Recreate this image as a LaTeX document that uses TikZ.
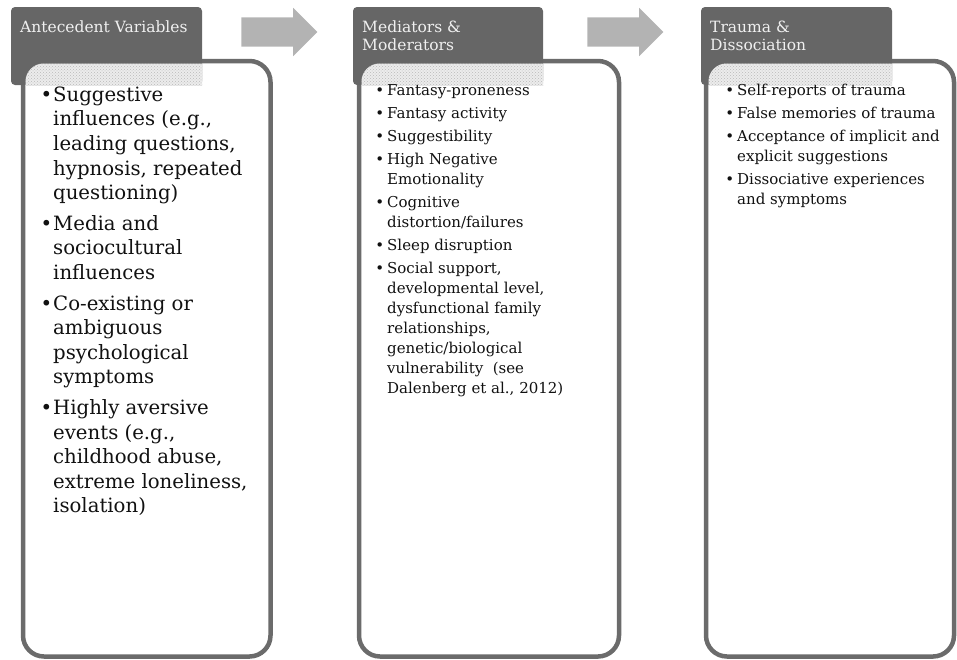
\documentclass[tikz,border=0pt]{standalone}
\usepackage{fontspec}
\setmainfont{DejaVu Serif}
\usepackage{xcolor}
\definecolor{fighead}{HTML}{666666}
\definecolor{figedge}{HTML}{6B6B6B}
\definecolor{figarrow}{HTML}{B3B3B3}
\definecolor{figtext}{HTML}{111111}
\definecolor{fightitle}{HTML}{F0F0F0}
\usetikzlibrary{positioning,shapes.arrows,patterns,calc}
\tikzset{
  fighdr/.style={fill=fighead,rounded corners=4pt,inner sep=0pt,outer sep=0pt,minimum height=78pt,anchor=north west},
  figbody/.style={draw=figedge,line width=4.5pt,fill=white,rounded corners=21pt,inner sep=0pt,outer sep=0pt,minimum height=595.5pt,anchor=north west},
  figtitle/.style={text=fightitle,font=\fontsize{15.5}{18.5}\selectfont,align=left,inner sep=0pt,anchor=north west},
  figbig/.style={text=figtext,font=\fontsize{19.7}{24.6}\selectfont,align=left,inner sep=0pt,anchor=north west},
  figsmall/.style={text=figtext,font=\fontsize{15}{20}\selectfont,align=left,inner sep=0pt,anchor=north west},
  figshade/.style={preaction={fill=gray!15},pattern=crosshatch dots,pattern color=gray!55,rounded corners=18pt},
  figflow/.style={single arrow,fill=figarrow,minimum height=76pt,inner xsep=0pt,inner ysep=14.5pt,single arrow head extend=9.5pt},
}
\newcommand{\bigbul}{\strut\llap{\textbullet\hspace{1pt}}}
\newcommand{\smlbul}{\strut\llap{\textbullet\hspace{3pt}}}

\begin{document}
\begin{tikzpicture}[x=1pt,y=-1pt]
\useasboundingbox (0,0) rectangle (957,659);
% white panels
\node[figbody,minimum width=247.5pt](b1) at (23,61){};
\node[figbody,minimum width=260pt](b2) at (359,61){};
\node[figbody,minimum width=248pt](b3) at (706,61){};
% dark headers
\node[fighdr,minimum width=191pt](h1) at (11,7){};
\node[fighdr,minimum width=190pt](h2) at (353,7){};
\node[fighdr,minimum width=191pt](h3) at (701,7){};
% see-through part where header and panel overlap
\foreach \i in {1,2,3}{
  \begin{scope}
    \clip (h\i.south west) rectangle (h\i.north east);
    \fill[figshade]([shift={(2.5,2.5)}]b\i.north west) rectangle ([shift={(-2.5,-2.5)}]b\i.south east);
  \end{scope}
}
\node[figtitle](h1t) at ([shift={(9,12.05)}]h1.north west){\strut Antecedent Variables};
\node[figtitle](h2t) at ([shift={(9,12.05)}]h2.north west){\strut Mediators \&\\Moderators};
\node[figtitle](h3t) at ([shift={(9,12.05)}]h3.north west){\strut Trauma \&\\Dissociation};
% block arrows between headers
\node[figflow](f1) at ($(h1.north east)!0.5!(h2.north west)+(-5.5,25)$){};
\node[figflow](f2) at ($(h2.north east)!0.5!(h3.north west)+(-4,25)$){};
% lists
\node[figbig](t1) at ([shift={(30,22.8)}]b1.north west){\bigbul Suggestive\\influences (e.g.,\\leading questions,\\hypnosis, repeated\\questioning)\\[6pt]
\bigbul Media and\\sociocultural\\influences\\[6pt]
\bigbul Co-existing or\\ambiguous\\psychological\\symptoms\\[6pt]
\bigbul Highly aversive\\events (e.g.,\\childhood abuse,\\extreme loneliness,\\isolation)};
\node[figsmall](t2) at ([shift={(28,20)}]b2.north west){\smlbul Fantasy-proneness\\[3pt]
\smlbul Fantasy activity\\[3pt]
\smlbul Suggestibility\\[3pt]
\smlbul High Negative\\Emotionality\\[3pt]
\smlbul Cognitive\\distortion/failures\\[3pt]
\smlbul Sleep disruption\\[3pt]
\smlbul Social support,\\developmental level,\\dysfunctional family\\relationships,\\genetic/biological\\vulnerability~ (see\\Dalenberg et al., 2012)};
\node[figsmall](t3) at ([shift={(31,20)}]b3.north west){\smlbul Self-reports of trauma\\[3pt]
\smlbul False memories of trauma\\[3pt]
\smlbul Acceptance of implicit and\\explicit suggestions\\[3pt]
\smlbul Dissociative experiences\\and symptoms};
\end{tikzpicture}
\end{document}
